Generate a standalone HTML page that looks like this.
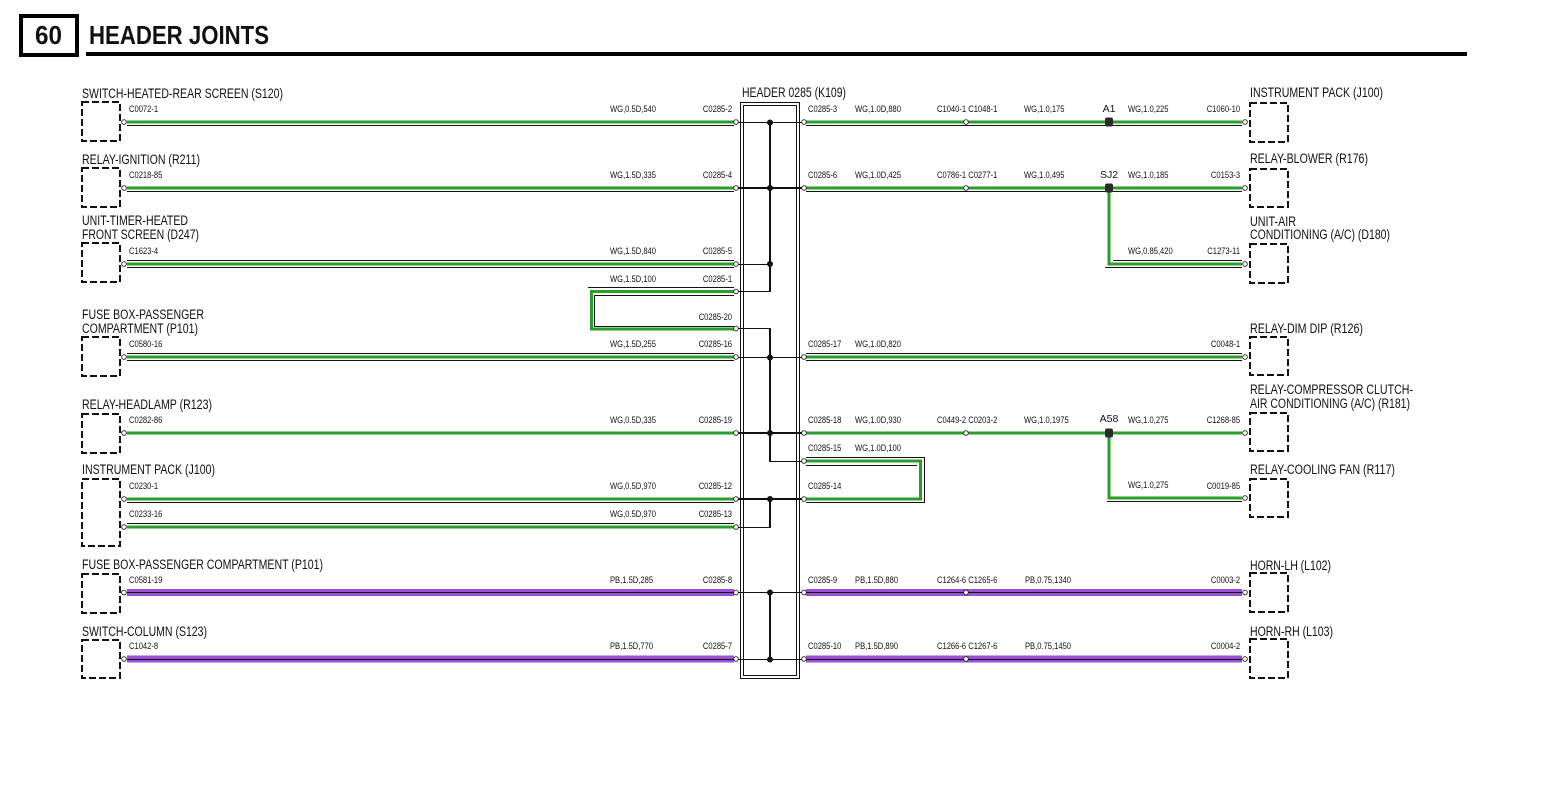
<!DOCTYPE html>
<html><head><meta charset="utf-8"><style>
html,body{margin:0;padding:0;background:#fff;overflow:hidden}
svg{display:block}
text{font-family:"Liberation Sans",Arial,sans-serif;fill:#111}
.L{font-size:13.5px}
.s{font-size:9.5px;transform-box:fill-box;transform-origin:0 0;transform:scaleX(.8)}
.e{text-anchor:end;transform-origin:100% 0}
.sp{font-size:10.5px;text-anchor:middle}
.g{stroke:#2a9d2a;stroke-width:3;fill:none}
.k{stroke:#111;stroke-width:1;fill:none}
.kk{stroke:#111;stroke-width:2;fill:none}
.p{stroke:#9a4fd8;stroke-width:7}
.db{fill:none;stroke:#111;stroke-width:2;stroke-dasharray:7 3}
.pin{fill:#fff;stroke:#222;stroke-width:.9}
</style></head><body>
<svg width="1545" height="799" viewBox="0 0 1545 799" xmlns="http://www.w3.org/2000/svg">
<!-- Title -->
<rect x="21" y="16" width="56" height="39" fill="none" stroke="#000" stroke-width="4"/>
<text x="35" y="44" style="font-size:26px;font-weight:bold" textLength="27" lengthAdjust="spacingAndGlyphs">60</text>
<text x="89" y="44" style="font-size:26px;font-weight:bold" textLength="180" lengthAdjust="spacingAndGlyphs">HEADER JOINTS</text>
<rect x="86" y="52" width="1381" height="4" fill="#000"/>

<!-- Left big labels -->
<text class="L" x="82" y="98" textLength="201" lengthAdjust="spacingAndGlyphs">SWITCH-HEATED-REAR SCREEN (S120)</text>
<text class="L" x="82" y="164" textLength="118" lengthAdjust="spacingAndGlyphs">RELAY-IGNITION (R211)</text>
<text class="L" x="82" y="225" textLength="106" lengthAdjust="spacingAndGlyphs">UNIT-TIMER-HEATED</text>
<text class="L" x="82" y="239" textLength="117" lengthAdjust="spacingAndGlyphs">FRONT SCREEN (D247)</text>
<text class="L" x="82" y="319" textLength="122" lengthAdjust="spacingAndGlyphs">FUSE BOX-PASSENGER</text>
<text class="L" x="82" y="333" textLength="116" lengthAdjust="spacingAndGlyphs">COMPARTMENT (P101)</text>
<text class="L" x="82" y="409" textLength="130" lengthAdjust="spacingAndGlyphs">RELAY-HEADLAMP (R123)</text>
<text class="L" x="82" y="474" textLength="133" lengthAdjust="spacingAndGlyphs">INSTRUMENT PACK (J100)</text>
<text class="L" x="82" y="569" textLength="241" lengthAdjust="spacingAndGlyphs">FUSE BOX-PASSENGER COMPARTMENT (P101)</text>
<text class="L" x="82" y="636" textLength="125" lengthAdjust="spacingAndGlyphs">SWITCH-COLUMN (S123)</text>

<!-- Right big labels -->
<text class="L" x="1250" y="97" textLength="133" lengthAdjust="spacingAndGlyphs">INSTRUMENT PACK (J100)</text>
<text class="L" x="1250" y="163" textLength="118" lengthAdjust="spacingAndGlyphs">RELAY-BLOWER (R176)</text>
<text class="L" x="1250" y="226" textLength="46" lengthAdjust="spacingAndGlyphs">UNIT-AIR</text>
<text class="L" x="1250" y="239" textLength="140" lengthAdjust="spacingAndGlyphs">CONDITIONING (A/C) (D180)</text>
<text class="L" x="1250" y="333" textLength="113" lengthAdjust="spacingAndGlyphs">RELAY-DIM DIP (R126)</text>
<text class="L" x="1250" y="394" textLength="163" lengthAdjust="spacingAndGlyphs">RELAY-COMPRESSOR CLUTCH-</text>
<text class="L" x="1250" y="408" textLength="160" lengthAdjust="spacingAndGlyphs">AIR CONDITIONING (A/C) (R181)</text>
<text class="L" x="1250" y="474" textLength="145" lengthAdjust="spacingAndGlyphs">RELAY-COOLING FAN (R117)</text>
<text class="L" x="1250" y="570" textLength="81" lengthAdjust="spacingAndGlyphs">HORN-LH (L102)</text>
<text class="L" x="1250" y="636" textLength="83" lengthAdjust="spacingAndGlyphs">HORN-RH (L103)</text>

<!-- Header label -->
<text class="L" x="742" y="97" textLength="104" lengthAdjust="spacingAndGlyphs">HEADER 0285 (K109)</text>

<!-- Dashed boxes left -->
<rect class="db" x="82" y="102" width="38" height="39"/>
<rect class="db" x="82" y="168" width="38" height="39"/>
<rect class="db" x="82" y="243" width="38" height="39"/>
<rect class="db" x="82" y="337" width="38" height="39"/>
<rect class="db" x="82" y="414" width="38" height="39"/>
<rect class="db" x="82" y="479" width="38" height="67"/>
<rect class="db" x="82" y="574" width="38" height="39"/>
<rect class="db" x="82" y="640" width="38" height="38"/>
<!-- Dashed boxes right -->
<rect class="db" x="1250" y="103" width="38" height="39"/>
<rect class="db" x="1250" y="169" width="38" height="38"/>
<rect class="db" x="1250" y="244" width="38" height="39"/>
<rect class="db" x="1250" y="337" width="38" height="38"/>
<rect class="db" x="1250" y="413" width="38" height="38"/>
<rect class="db" x="1250" y="479" width="38" height="38"/>
<rect class="db" x="1250" y="573" width="38" height="39"/>
<rect class="db" x="1250" y="639" width="38" height="39"/>

<!-- Left wires -->
<line class="g" x1="127" y1="122" x2="734" y2="122"/><line class="k" x1="127" y1="125.5" x2="734" y2="125.5"/>
<line class="g" x1="127" y1="188" x2="734" y2="188"/><line class="k" x1="127" y1="191.5" x2="734" y2="191.5"/>
<line class="k" x1="127" y1="260.5" x2="734" y2="260.5"/><line class="g" x1="127" y1="264" x2="734" y2="264"/><line class="k" x1="127" y1="267.5" x2="734" y2="267.5"/>
<line class="k" x1="127" y1="353.5" x2="734" y2="353.5"/><line class="g" x1="127" y1="357" x2="734" y2="357"/><line class="k" x1="127" y1="360.5" x2="734" y2="360.5"/>
<line class="g" x1="127" y1="433" x2="734" y2="433"/>
<line class="g" x1="127" y1="499" x2="734" y2="499"/><line class="k" x1="127" y1="502.5" x2="734" y2="502.5"/>
<line class="k" x1="127" y1="523.5" x2="734" y2="523.5"/><line class="g" x1="127" y1="527" x2="734" y2="527"/>
<line class="p" x1="127" y1="592.5" x2="734" y2="592.5"/><line class="k" x1="127" y1="592.5" x2="734" y2="592.5"/>
<line class="p" x1="127" y1="659" x2="734" y2="659"/><line class="k" x1="127" y1="659.5" x2="734" y2="659.5"/>

<!-- Left loop C0285-1 / C0285-20 -->
<path class="k" d="M734 287.5 H588"/>
<path class="g" d="M734 291.5 H591.5 V329 H734"/>
<path class="k" d="M734 295.5 H594.5 V326.5 H734"/>

<!-- Right wires -->
<line class="g" x1="806" y1="122" x2="1242" y2="122"/><line class="k" x1="806" y1="125.5" x2="1242" y2="125.5"/>
<line class="g" x1="806" y1="188" x2="1242" y2="188"/><line class="k" x1="806" y1="191.5" x2="1242" y2="191.5"/>
<path class="g" d="M1109 188 V264 H1242"/>
<line class="k" x1="1113" y1="260.5" x2="1242" y2="260.5"/><line class="k" x1="1105" y1="267.5" x2="1242" y2="267.5"/>
<line class="k" x1="806" y1="353.5" x2="1242" y2="353.5"/><line class="g" x1="806" y1="357" x2="1242" y2="357"/><line class="k" x1="806" y1="360.5" x2="1242" y2="360.5"/>
<line class="g" x1="806" y1="433" x2="1242" y2="433"/>
<path class="g" d="M1109 433 V498 H1242"/>
<line class="k" x1="1107" y1="501.5" x2="1242" y2="501.5"/>
<line class="p" x1="806" y1="592.5" x2="1242" y2="592.5"/><line class="k" x1="806" y1="592.5" x2="1242" y2="592.5"/>
<line class="p" x1="806" y1="659" x2="1242" y2="659"/><line class="k" x1="806" y1="659.5" x2="1242" y2="659.5"/>

<!-- Right loop C0285-15 / C0285-14 -->
<path class="k" d="M806 457.5 H924.5 V502.5 H806"/>
<path class="g" d="M806 461 H920.5 V499 H806"/>
<path class="k" d="M806 465.5 H917"/>

<!-- Header box -->
<rect x="740.5" y="102.5" width="59" height="576" fill="none" stroke="#111" stroke-width="1"/>
<rect x="743.5" y="105.5" width="53" height="570" fill="none" stroke="#111" stroke-width="1"/>

<!-- Internal bus -->
<line class="kk" x1="770" y1="122" x2="770" y2="292"/>
<line class="kk" x1="770" y1="328" x2="770" y2="462"/>
<line class="kk" x1="770" y1="499" x2="770" y2="528"/>
<line class="kk" x1="770" y1="592" x2="770" y2="659"/>
<line class="k" x1="736" y1="122.5" x2="804" y2="122.5"/>
<line class="kk" x1="736" y1="188" x2="804" y2="188"/>
<line class="k" x1="736" y1="264.5" x2="770" y2="264.5"/>
<line class="k" x1="736" y1="291.5" x2="771" y2="291.5"/>
<line class="k" x1="736" y1="328.5" x2="771" y2="328.5"/>
<line class="k" x1="736" y1="357.5" x2="804" y2="357.5"/>
<line class="kk" x1="736" y1="433" x2="804" y2="433"/>
<line class="k" x1="769" y1="461.5" x2="804" y2="461.5"/>
<line class="kk" x1="736" y1="499" x2="804" y2="499"/>
<line class="k" x1="736" y1="527.5" x2="771" y2="527.5"/>
<line class="k" x1="736" y1="592.5" x2="804" y2="592.5"/>
<line class="k" x1="736" y1="659.5" x2="804" y2="659.5"/>
<g fill="#111">
<circle cx="770" cy="122.5" r="3"/><circle cx="770" cy="188" r="3"/><circle cx="770" cy="264" r="3"/>
<circle cx="770" cy="357.5" r="3"/><circle cx="770" cy="433" r="3"/><circle cx="770" cy="499" r="3"/>
<circle cx="770" cy="592.5" r="3"/><circle cx="770" cy="659.5" r="3"/>
</g>

<!-- Splices -->
<g fill="#2b2b2b">
<rect x="1105" y="117.5" width="8" height="9" rx="2"/>
<rect x="1105" y="183.5" width="8" height="9" rx="2"/>
<rect x="1105" y="428.5" width="8" height="9" rx="2"/>
</g>

<!-- Pins -->
<g class="pin">
<circle cx="124" cy="122" r="2.3"/><circle cx="124" cy="188" r="2.3"/><circle cx="124" cy="264" r="2.3"/>
<circle cx="124" cy="357" r="2.3"/><circle cx="124" cy="433" r="2.3"/><circle cx="124" cy="499" r="2.3"/>
<circle cx="124" cy="527" r="2.3"/><circle cx="124" cy="592.5" r="2.3"/><circle cx="124" cy="659" r="2.3"/>
<circle cx="736" cy="122" r="2.3"/><circle cx="736" cy="188" r="2.3"/><circle cx="736" cy="264" r="2.3"/>
<circle cx="736" cy="291.5" r="2.3"/><circle cx="736" cy="328.5" r="2.3"/><circle cx="736" cy="357" r="2.3"/>
<circle cx="736" cy="433" r="2.3"/><circle cx="736" cy="499" r="2.3"/><circle cx="736" cy="527" r="2.3"/>
<circle cx="736" cy="592.5" r="2.3"/><circle cx="736" cy="659" r="2.3"/>
<circle cx="804" cy="122" r="2.3"/><circle cx="804" cy="188" r="2.3"/><circle cx="804" cy="357" r="2.3"/>
<circle cx="804" cy="433" r="2.3"/><circle cx="804" cy="461" r="2.3"/><circle cx="804" cy="499" r="2.3"/>
<circle cx="804" cy="592.5" r="2.3"/><circle cx="804" cy="659" r="2.3"/>
<circle cx="966" cy="122" r="2.3"/><circle cx="966" cy="188" r="2.3"/><circle cx="966" cy="433" r="2.3"/>
<circle cx="966" cy="592.5" r="2.3"/><circle cx="966" cy="659" r="2.3"/>
<circle cx="1245" cy="122" r="2.3"/><circle cx="1245" cy="188" r="2.3"/><circle cx="1245" cy="264" r="2.3"/>
<circle cx="1245" cy="357" r="2.3"/><circle cx="1245" cy="433" r="2.3"/><circle cx="1245" cy="498" r="2.3"/>
<circle cx="1245" cy="592.5" r="2.3"/><circle cx="1245" cy="659" r="2.3"/>
</g>

<!-- Left connector ids -->
<text class="s" x="129" y="112">C0072-1</text>
<text class="s" x="129" y="178">C0218-85</text>
<text class="s" x="129" y="254">C1623-4</text>
<text class="s" x="129" y="347">C0580-16</text>
<text class="s" x="129" y="423">C0282-86</text>
<text class="s" x="129" y="489">C0230-1</text>
<text class="s" x="129" y="517">C0233-16</text>
<text class="s" x="129" y="583">C0581-19</text>
<text class="s" x="129" y="649">C1042-8</text>

<!-- Left wire labels -->
<text class="s" x="610" y="112">WG,0.5D,540</text>
<text class="s" x="610" y="178">WG,1.5D,335</text>
<text class="s" x="610" y="254">WG,1.5D,840</text>
<text class="s" x="610" y="282">WG,1.5D,100</text>
<text class="s" x="610" y="347">WG,1.5D,255</text>
<text class="s" x="610" y="423">WG,0.5D,335</text>
<text class="s" x="610" y="489">WG,0.5D,970</text>
<text class="s" x="610" y="517">WG,0.5D,970</text>
<text class="s" x="610" y="583">PB,1.5D,285</text>
<text class="s" x="610" y="649">PB,1.5D,770</text>

<!-- Header left ids -->
<text class="s e" x="732" y="112">C0285-2</text>
<text class="s e" x="732" y="178">C0285-4</text>
<text class="s e" x="732" y="254">C0285-5</text>
<text class="s e" x="732" y="282">C0285-1</text>
<text class="s e" x="732" y="320">C0285-20</text>
<text class="s e" x="732" y="347">C0285-16</text>
<text class="s e" x="732" y="423">C0285-19</text>
<text class="s e" x="732" y="489">C0285-12</text>
<text class="s e" x="732" y="517">C0285-13</text>
<text class="s e" x="732" y="583">C0285-8</text>
<text class="s e" x="732" y="649">C0285-7</text>

<!-- Header right ids -->
<text class="s" x="808" y="112">C0285-3</text>
<text class="s" x="808" y="178">C0285-6</text>
<text class="s" x="808" y="347">C0285-17</text>
<text class="s" x="808" y="423">C0285-18</text>
<text class="s" x="808" y="451">C0285-15</text>
<text class="s" x="808" y="489">C0285-14</text>
<text class="s" x="808" y="583">C0285-9</text>
<text class="s" x="808" y="649">C0285-10</text>

<!-- Right wire labels -->
<text class="s" x="855" y="112">WG,1.0D,880</text>
<text class="s" x="855" y="178">WG,1.0D,425</text>
<text class="s" x="855" y="347">WG,1.0D,820</text>
<text class="s" x="855" y="423">WG,1.0D,930</text>
<text class="s" x="855" y="451">WG,1.0D,100</text>
<text class="s" x="855" y="583">PB,1.5D,880</text>
<text class="s" x="855" y="649">PB,1.5D,890</text>

<text class="s" x="937" y="112">C1040-1 C1048-1</text>
<text class="s" x="937" y="178">C0786-1 C0277-1</text>
<text class="s" x="937" y="423">C0449-2 C0203-2</text>
<text class="s" x="937" y="583">C1264-6 C1265-6</text>
<text class="s" x="937" y="649">C1266-6 C1267-6</text>

<text class="s" x="1024" y="112">WG,1.0,175</text>
<text class="s" x="1024" y="178">WG,1.0,495</text>
<text class="s" x="1024" y="423">WG,1.0,1975</text>
<text class="s" x="1025" y="583">PB,0.75,1340</text>
<text class="s" x="1025" y="649">PB,0.75,1450</text>

<text class="sp" x="1109" y="112">A1</text>
<text class="sp" x="1109" y="178">SJ2</text>
<text class="sp" x="1109" y="422">A58</text>

<text class="s" x="1128" y="112">WG,1.0,225</text>
<text class="s" x="1128" y="178">WG,1.0,185</text>
<text class="s" x="1128" y="254">WG,0.85,420</text>
<text class="s" x="1128" y="423">WG,1.0,275</text>
<text class="s" x="1128" y="488">WG,1.0,275</text>

<text class="s e" x="1240" y="112">C1060-10</text>
<text class="s e" x="1240" y="178">C0153-3</text>
<text class="s e" x="1240" y="254">C1273-11</text>
<text class="s e" x="1240" y="347">C0048-1</text>
<text class="s e" x="1240" y="423">C1268-85</text>
<text class="s e" x="1240" y="489">C0019-85</text>
<text class="s e" x="1240" y="583">C0003-2</text>
<text class="s e" x="1240" y="649">C0004-2</text>
</svg>
</body></html>
